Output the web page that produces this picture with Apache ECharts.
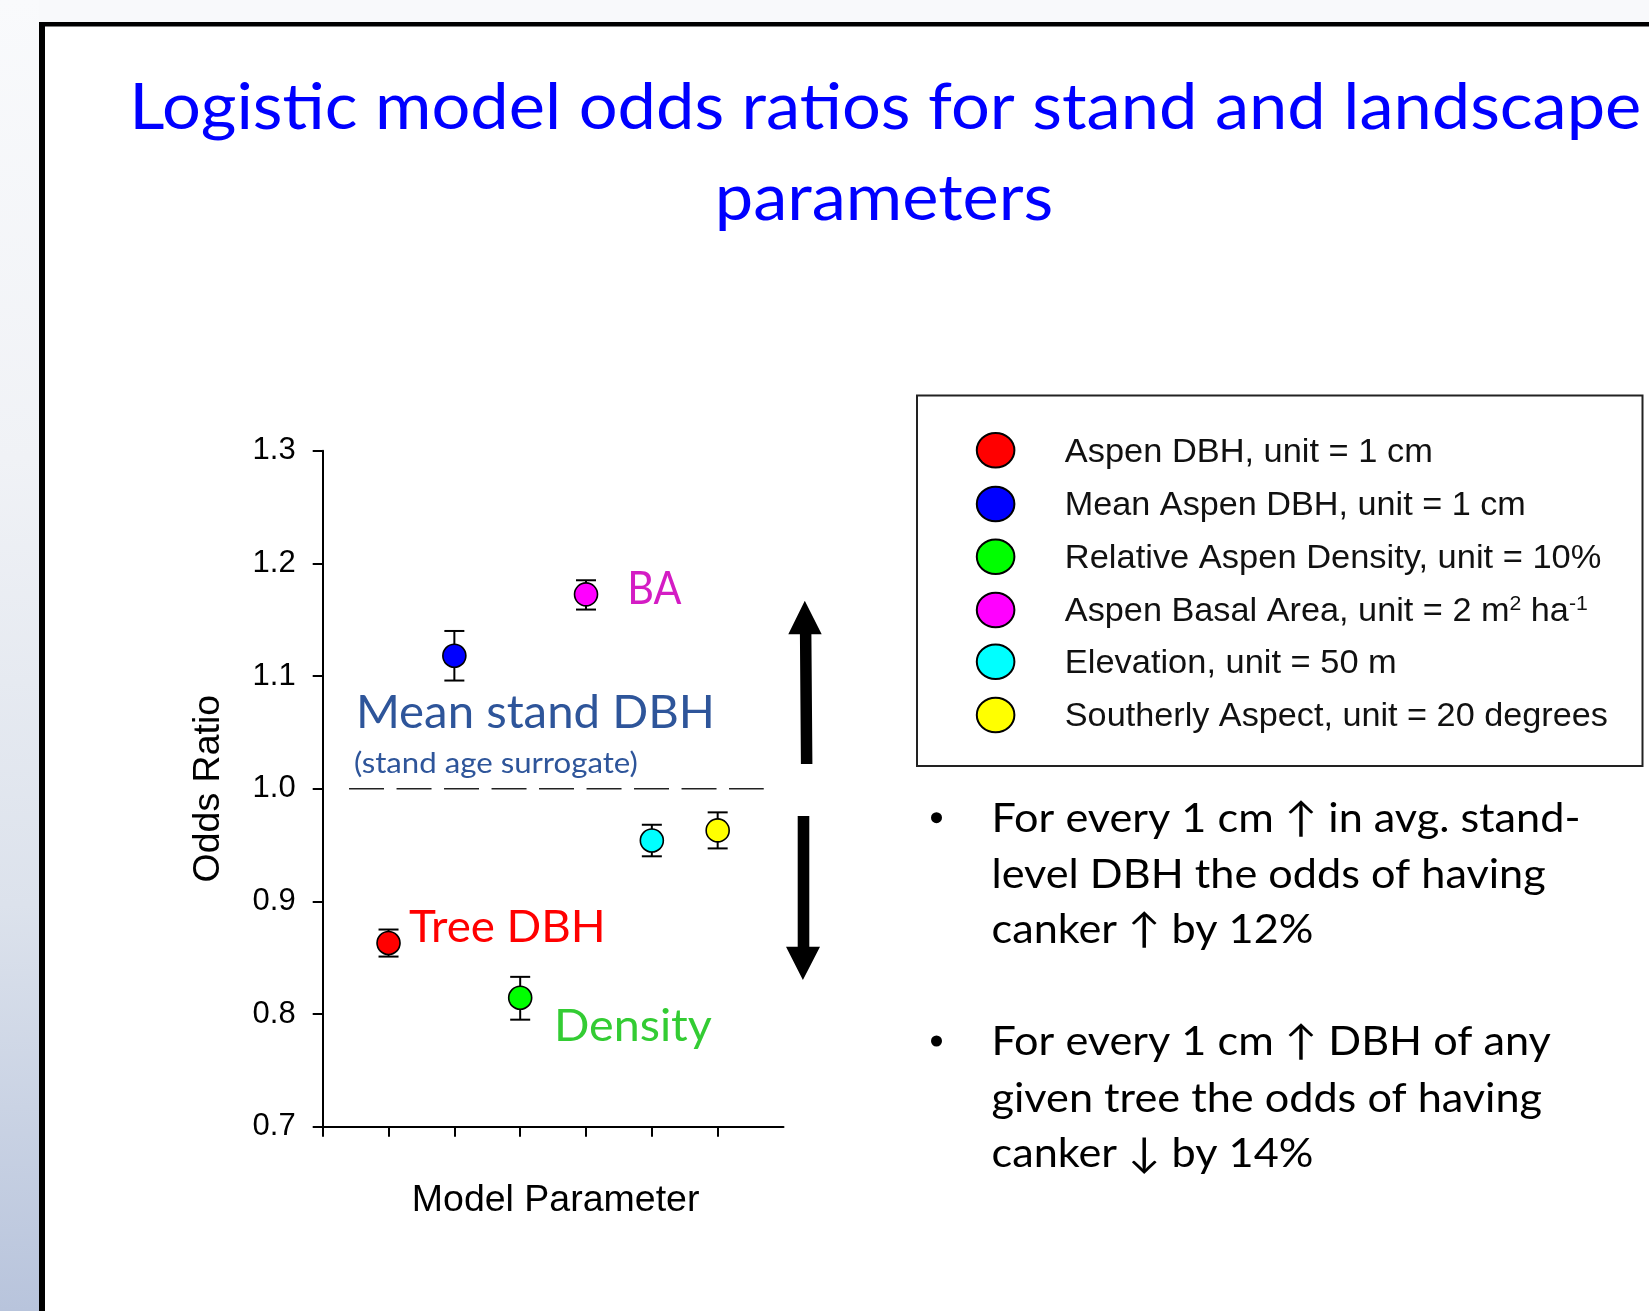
<!DOCTYPE html>
<html>
<head>
<meta charset="utf-8">
<script src="https://cdn.jsdelivr.net/npm/echarts@6/dist/echarts.min.js"></script>
<style>
html,body{margin:0;padding:0;background:#fff;}
#chart{width:1649px;height:1311px;}
</style>
</head>
<body>
<div id="chart"></div>
<script>
// ---------------- data ----------------
const paramKeys = ['Tree DBH', 'Mean stand DBH', 'Density', 'BA', 'Elevation', 'Aspect'];
const xPos = [1, 2, 3, 4, 5, 6];
const oddsRatio = [0.863, 1.118, 0.8145, 1.1725, 0.954, 0.963];
const ciLow = [0.851, 1.096, 0.795, 1.159, 0.940, 0.947];
const ciHigh = [0.875, 1.140, 0.833, 1.185, 0.968, 0.979];
const markerColors = ['#FF0000', '#0000FF', '#00FF00', '#FF00FF', '#00FFFF', '#FFFF00'];
const yTicks = [0.7, 0.8, 0.9, 1.0, 1.1, 1.2, 1.3];
const xTicks = [0, 1, 2, 3, 4, 5, 6];
const refLineX = [0.4, 6.7];
const refLineY = 1.0;
const legendLabels = [
  'Aspen DBH, unit = 1 cm',
  'Mean Aspen DBH, unit = 1 cm',
  'Relative Aspen Density, unit = 10%',
  'Aspen Basal Area, unit = 2 m|2| ha|-1|',
  'Elevation, unit = 50 m',
  'Southerly Aspect, unit = 20 degrees'
];
const titleLines = ['Logistic model odds ratios for stand and landscape', 'parameters'];
const bulletLines = [
  ['For every 1 cm \u2191 in avg. stand-', 'level DBH the odds of having', 'canker \u2191 by 12%'],
  ['For every 1 cm \u2191 DBH of any', 'given tree the odds of having', 'canker \u2193 by 14%']
];

// ---------------- text helpers ----------------
const mctx = document.createElement('canvas').getContext('2d');
function fontStr(size, family) { return size + 'px ' + family; }
function capMetrics(family) {
  mctx.font = fontStr(100, family);
  mctx.textBaseline = 'middle';
  const m = mctx.measureText('H');
  return { cap: (m.actualBoundingBoxAscent + m.actualBoundingBoxDescent) / 100, base: m.actualBoundingBoxDescent / 100 };
}
function tw(str, size, family) { mctx.font = fontStr(size, family); return mctx.measureText(str).width; }
function makeText(str, left, baseline, size, family, sx, color) {
  const mt = capMetrics(family);
  return {
    type: 'text', x: left, y: baseline - mt.base * size, scaleX: sx, silent: true,
    style: { text: str, x: 0, y: 0, fill: color, fontSize: size, fontFamily: family, align: 'left', verticalAlign: 'middle' }
  };
}
function fitText(str, left, baseline, cap, width, family, color) {
  const mt = capMetrics(family);
  const size = cap / mt.cap;
  const sx = width / tw(str, size, family);
  return makeText(str, left, baseline, size, family, sx, color);
}
// segments separated by | : odd indexes are superscripts
function fitSegText(str, left, baseline, cap, width, family, color) {
  const mt = capMetrics(family);
  const size = cap / mt.cap;
  const supSize = size * 0.62;
  const segs = str.split('|');
  let total = 0;
  segs.forEach((s, i) => { total += tw(s, i % 2 ? supSize : size, family); });
  const sx = width / total;
  const out = [];
  let x = left;
  segs.forEach((s, i) => {
    if (!s) return;
    const sup = i % 2 === 1;
    const sz = sup ? supSize : size;
    const bl = sup ? baseline - cap * 0.48 : baseline;
    out.push(makeText(s, x, bl, sz, family, sx, color));
    x += tw(s, sz, family) * sx;
  });
  return out;
}

const CAL = 'Lato';
const ARIAL = '"Liberation Sans"';

// ---------------- graphics ----------------
const graphics = [];
// background
graphics.push({ type: 'rect', shape: { x: 0, y: 0, width: 1649, height: 1311 }, style: { fill: '#ffffff' }, z: -10, silent: true });
graphics.push({ type: 'rect', shape: { x: 0, y: 0, width: 1649, height: 22 }, style: { fill: '#f8f9fb' }, z: -9, silent: true });
graphics.push({
  type: 'rect', shape: { x: 0, y: 0, width: 39, height: 1311 }, z: -9, silent: true,
  style: { fill: new echarts.graphic.LinearGradient(0, 0, 0, 1, [
    { offset: 0, color: '#f9fafc' }, { offset: 0.35, color: '#f0f2f6' }, { offset: 0.69, color: '#dce2ec' }, { offset: 1, color: '#b8c4dc' }
  ]) }
});
// frame
graphics.push({ type: 'rect', shape: { x: 39, y: 22, width: 1610, height: 4.5 }, style: { fill: '#000' }, silent: true });
graphics.push({ type: 'rect', shape: { x: 39, y: 22, width: 6, height: 1289 }, style: { fill: '#000' }, silent: true });

// title
(function () {
  const mt = capMetrics(CAL);
  const cap = 46.7;
  const size = cap / mt.cap;
  const sx = 1512 / tw(titleLines[0], size, CAL);
  graphics.push(makeText(titleLines[0], 129.3, 129.3, size, CAL, sx, '#0000FF'));
  const w2 = tw(titleLines[1], size, CAL) * sx;
  graphics.push(makeText(titleLines[1], 884 - w2 / 2, 220.5, size, CAL, sx, '#0000FF'));
})();

// annotations
graphics.push(fitText('BA', 627.3, 604.3, 33.3, 54.3, CAL, '#D41CC4'));
graphics.push(fitText('Mean stand DBH', 355.9, 728.3, 34, 359, CAL, '#2E559A'));
graphics.push(fitText('(stand age surrogate)', 353.9, 773.3, 21, 284, CAL, '#2E559A'));
graphics.push(fitText('Tree DBH', 409, 942.3, 32.5, 196.7, CAL, '#FF0000'));
graphics.push(fitText('Density', 553.9, 1040.7, 32.5, 158, CAL, '#33CC33'));

// arrows
graphics.push({ type: 'polygon', silent: true, shape: { points: [[804.8, 600.7], [821.7, 634.3], [811.4, 634.3], [812.4, 764], [800.9, 764], [799.9, 634.3], [788.3, 634.3]] }, style: { fill: '#000' } });
graphics.push({ type: 'polygon', silent: true, shape: { points: [[797.7, 816], [809.3, 816], [809.3, 946.7], [820, 946.7], [802.9, 980], [786, 946.7], [797.7, 946.7]] }, style: { fill: '#000' } });

// legend box
graphics.push({ type: 'rect', silent: true, shape: { x: 917, y: 395.5, width: 725.5, height: 370.5 }, style: { fill: '#fff', stroke: '#222', lineWidth: 2 } });
const legendRowY = [450.3, 504, 556.7, 610, 661.7, 715];
const legendWidths = [368, 461, 536.6, 523, 332, 543];
legendLabels.forEach((lab, i) => {
  graphics.push({ type: 'ellipse', silent: true, shape: { cx: 995.6, cy: legendRowY[i], rx: 18.8, ry: 17.3 }, style: { fill: markerColors[i], stroke: '#000', lineWidth: 2 } });
  fitSegText(lab, 1064.8, legendRowY[i] + 11.2, 22.4, legendWidths[i], ARIAL, '#111').forEach(g => graphics.push(g));
});

// bullets
(function () {
  const mt = capMetrics(CAL);
  const cap = 30;
  const size = cap / mt.cap;
  const sx = 589 / tw(bulletLines[0][0], size, CAL);
  const baselines = [[831.7, 888.3, 943.3], [1055, 1111.7, 1166.7]];
  bulletLines.forEach((lines, b) => {
    graphics.push({ type: 'circle', silent: true, shape: { cx: 936.5, cy: baselines[b][0] - 14, r: 5.5 }, style: { fill: '#000' } });
    lines.forEach((ln, j) => graphics.push(makeText(ln, 991.5, baselines[b][j], size, CAL, sx, '#000')));
  });
})();

// ---------------- chart ----------------
const chart = echarts.init(document.getElementById('chart'), null, { renderer: 'canvas' });
chart.setOption({
  animation: false,
  backgroundColor: 'transparent',
  graphic: { elements: graphics },
  grid: { left: 322.7, top: 450.7, width: 460.8, height: 676, containLabel: false },
  xAxis: {
    type: 'value', min: 0, max: 7, interval: 1,
    name: 'Model Parameter', nameLocation: 'middle', nameGap: 55,
    nameTextStyle: { fontFamily: ARIAL, fontSize: 37.5, color: '#000', padding: [0, 0, 0, 5] },
    axisLine: { show: true, onZero: false, lineStyle: { color: '#000', width: 2 } },
    axisTick: { show: true, length: 10, customValues: xTicks, lineStyle: { color: '#000', width: 2 } },
    axisLabel: { show: false },
    splitLine: { show: false }
  },
  yAxis: {
    type: 'value', min: 0.7, max: 1.3, interval: 0.1,
    name: 'Odds Ratio', nameLocation: 'middle', nameRotate: 90, nameGap: 95,
    nameTextStyle: { fontFamily: ARIAL, fontSize: 37.5, color: '#000' },
    axisLine: { show: true, onZero: false, lineStyle: { color: '#000', width: 2 } },
    axisTick: { show: true, length: 10, customValues: yTicks, lineStyle: { color: '#000', width: 2 } },
    axisLabel: { show: true, margin: 27, fontFamily: ARIAL, fontSize: 31, color: '#000', customValues: yTicks, formatter: v => Number(v).toFixed(1) },
    splitLine: { show: false }
  },
  series: [
    {
      name: 'reference', type: 'line', silent: true, symbol: 'none', z: 1,
      data: refLineX.map(x => [x, refLineY]),
      lineStyle: { color: '#222', width: 1.5, type: [35, 12.5] }
    },
    {
      name: 'CI', type: 'custom', z: 2, silent: true,
      data: xPos.map((x, i) => [x, ciLow[i], ciHigh[i]]),
      renderItem: function (params, api) {
        const x = api.value(0);
        const pLo = api.coord([x, api.value(1)]);
        const pHi = api.coord([x, api.value(2)]);
        const hw = 10;
        const st = { stroke: '#000', lineWidth: 2 };
        return {
          type: 'group', children: [
            { type: 'line', shape: { x1: pLo[0], y1: pLo[1], x2: pHi[0], y2: pHi[1] }, style: st },
            { type: 'line', shape: { x1: pLo[0] - hw, y1: pLo[1], x2: pLo[0] + hw, y2: pLo[1] }, style: st },
            { type: 'line', shape: { x1: pHi[0] - hw, y1: pHi[1], x2: pHi[0] + hw, y2: pHi[1] }, style: st }
          ]
        };
      }
    },
    {
      name: 'Odds ratio', type: 'scatter', z: 3, symbol: 'circle', symbolSize: 23,
      data: xPos.map((x, i) => ({ name: paramKeys[i], value: [x, oddsRatio[i]], itemStyle: { color: markerColors[i] } })),
      itemStyle: { borderColor: '#000', borderWidth: 1.6, opacity: 1 }
    }
  ]
});
</script>
</body>
</html>
